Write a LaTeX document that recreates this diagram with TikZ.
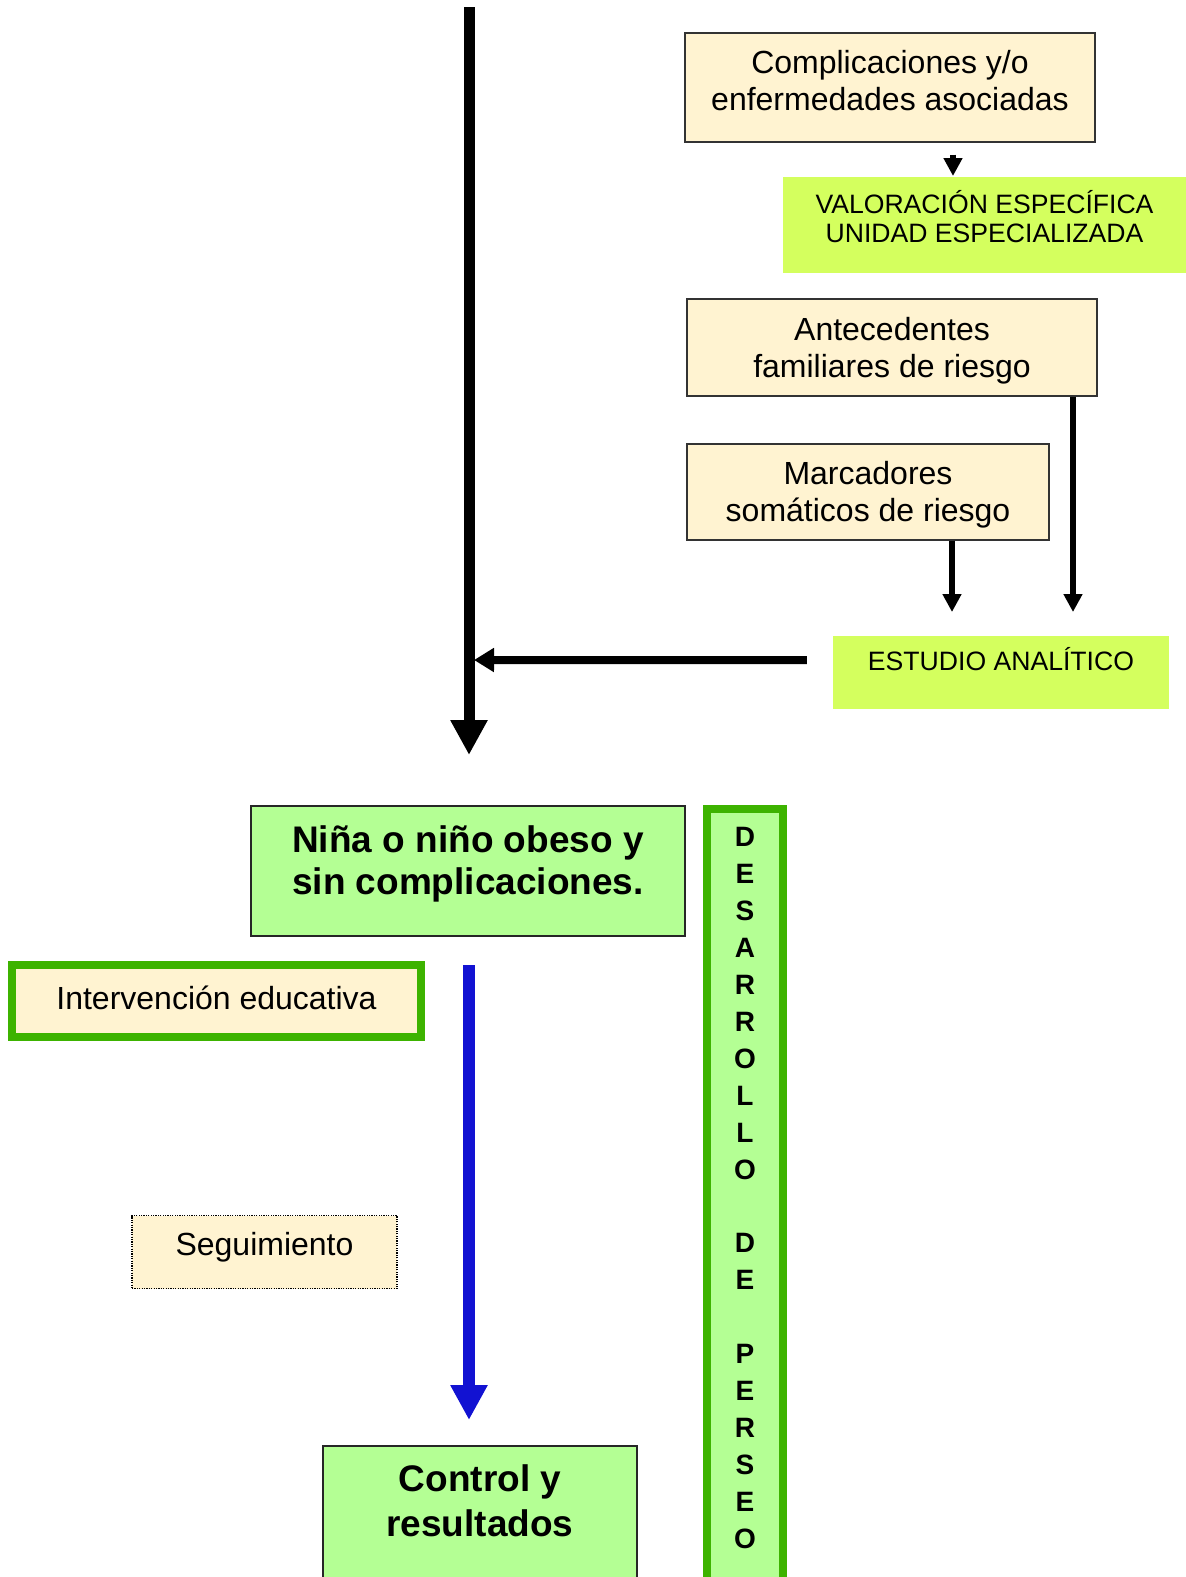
\documentclass[tikz,border=0pt]{standalone}
\usepackage{fontspec}
\setmainfont{Liberation Sans}
\usetikzlibrary{arrows.meta}

\definecolor{cream}{HTML}{FFF3D1}
\definecolor{chartreuse}{HTML}{D4FF5E}
\definecolor{palegreen}{HTML}{B4FF94}
\definecolor{leafgreen}{HTML}{3DB300}
\definecolor{deepblue}{HTML}{1212D2}

\begin{document}
\begin{tikzpicture}[
    x = 1pt, y = -1pt,
    box/.style = {rectangle, anchor = north, inner sep = 0pt, align = center},
    factor/.style = {box, draw = black!80, line width = 1.5pt,
      fill = cream, font = \fontsize{32}{37}\selectfont},
    action/.style = {box, fill = chartreuse,
      font = \fontsize{26.6}{29}\selectfont},
    outcome/.style = {box, draw = black!85, line width = 2pt,
      fill = palegreen, font = \fontsize{37}{42}\selectfont\bfseries},
    framed/.style = {draw = leafgreen, line width = 8pt},
    tracking/.style = {box, draw = black, line width = 1.2pt,
      dash pattern = on 1.2pt off 1.2pt, fill = cream,
      font = \fontsize{32}{37}\selectfont},
    mainflow/.style = {line width = 11pt,
      -{Triangle[width = 35pt, length = 35pt]}},
    sideflow/.style = {line width = 8pt,
      -{Triangle[width = 23pt, length = 20pt]}},
    feed/.style = {line width = 5.5pt,
      -{Triangle[width = 18pt, length = 18pt]}},
    care/.style = {deepblue, line width = 12pt,
      -{Triangle[width = 35pt, length = 35pt]}}
    ]
    \useasboundingbox (0, 0) rectangle (1186, 1577);
    \clip (0, 0) rectangle (1186, 1577);

    % right column
    \node at (890, 32) [factor, minimum width = 410pt,
      text height = 78pt, text depth = 31pt, name = compl]
      {Complicaciones y/o\\enfermedades asociadas};
    \node at (984.5, 177) [action, minimum width = 403pt,
      text height = 65pt, text depth = 31pt, name = valor]
      {VALORACIÓN ESPECÍFICA\\UNIDAD ESPECIALIZADA};
    \node at (892, 298) [factor, minimum width = 410pt,
      text height = 79pt, text depth = 18pt, name = antec]
      {Antecedentes\\familiares de riesgo};
    \node at (868, 443) [factor, minimum width = 362pt,
      text height = 78pt, text depth = 18pt, name = marc]
      {Marcadores\\somáticos de riesgo};
    \node at (1001, 636) [action, minimum width = 336pt,
      text height = 34pt, text depth = 39pt, name = estudio]
      {ESTUDIO ANALÍTICO};

    % lower part
    \node at (468, 805) [outcome, minimum width = 434pt,
      text height = 88pt, text depth = 42pt, name = nina]
      {Niña o niño obeso y\\sin complicaciones.};
    \node at (745, 805) [box, framed, fill = palegreen, minimum width = 76pt,
      text height = 739pt, text depth = 200pt,
      font = \fontsize{28}{36.9}\selectfont\bfseries, name = desarrollo]
      {D\\E\\S\\A\\R\\R\\O\\L\\L\\O\\~\\D\\E\\~\\P\\E\\R\\S\\E\\O};
    \node at (216.5, 961) [factor, framed, minimum width = 409pt,
      text height = 44pt, text depth = 28pt, name = interv]
      {Intervención educativa};
    \node at (264.5, 1215) [tracking, minimum width = 265pt,
      text height = 40pt, text depth = 33pt, name = seguim]
      {Seguimiento};
    \node at (480, 1445) [outcome, minimum width = 314pt,
      font = \fontsize{37}{45}\selectfont\bfseries,
      text height = 90pt, text depth = 200pt, name = control]
      {Control y\\resultados};

    \coordinate (source) at (469, 7);
    \coordinate (join) at (469, 660);

    \draw [mainflow, shorten > = 50pt] (source) to ([xshift = 1pt]nina.north);
    \draw [sideflow, shorten < = 26pt, shorten > = 5pt]
      ([yshift = 12.5pt]estudio.west) to (join);
    \draw [feed, shorten < = 12pt, shorten > = 1pt]
      ([xshift = 63pt]compl.south) to ([xshift = -31.5pt]valor.north);
    \draw [feed, shorten > = 24pt]
      ([xshift = 84pt]marc.south) to ([xshift = -49pt]estudio.north);
    \draw [feed, shorten > = 24pt]
      ([xshift = 181pt]antec.south) to ([xshift = 72pt]estudio.north);
    \draw [care, shorten < = 28pt, shorten > = 25pt]
      ([xshift = 1pt]nina.south) to ([xshift = -11pt]control.north);

  \end{tikzpicture}
\end{document}
